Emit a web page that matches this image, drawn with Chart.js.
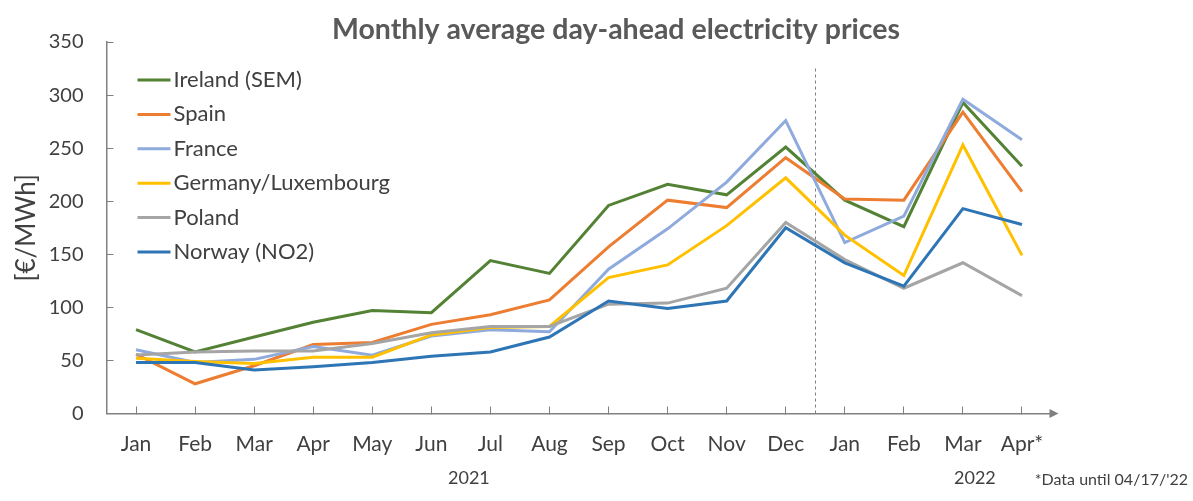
<!DOCTYPE html>
<html>
<head>
<meta charset="utf-8">
<title>Monthly average day-ahead electricity prices</title>
<script src="https://cdn.jsdelivr.net/npm/chart.js@4.4.1/dist/chart.umd.min.js"></script>
<style>
  html, body { margin: 0; padding: 0; background: #fff; }
  #wrap { position: relative; width: 1193px; height: 501px; }
</style>
</head>
<body>
<div id="wrap"><canvas id="priceChart"></canvas></div>
<script>
// categories (Jan 2021 .. Apr 2022)
const months = ['Jan', 'Feb', 'Mar', 'Apr', 'May', 'Jun', 'Jul', 'Aug', 'Sep', 'Oct', 'Nov', 'Dec',
                'Jan', 'Feb', 'Mar', 'Apr*'];
const years = ['2021', '2022'];
const footnote = "*Data until 04/17/'22";

// monthly averages in €/MWh
const ireland = [79, 58, 72, 86, 97, 95, 144, 132, 196, 216, 206, 251, 201, 176, 293, 233];
const spain   = [56, 28, 45, 65, 67, 84, 93, 107, 157, 201, 194, 241, 202, 201, 284, 209];
const france  = [60, 48, 51, 63, 55, 73, 79, 77, 136, 174, 218, 276, 161, 186, 296, 258];
const germany = [52, 49, 47, 53, 53, 74, 81, 82, 128, 140, 177, 222, 168, 130, 253, 149];
const poland  = [55, 58, 59, 59, 66, 76, 82, 82, 103, 104, 118, 180, 145, 118, 142, 111];
const norway  = [48, 48, 41, 44, 48, 54, 58, 72, 106, 99, 106, 175, 142, 120, 193, 178];

const seriesNames = ['Ireland (SEM)', 'Spain', 'France', 'Germany/Luxembourg', 'Poland', 'Norway (NO2)'];
const seriesValues = [ireland, spain, france, germany, poland, norway];
const seriesColors = ['#548235', '#ED7D31', '#8FAADC', '#FFC000', '#A5A5A5', '#2E75B6'];

const yMin = 0, yMax = 350, yStep = 50;

const FONT = 'Lato, "Open Sans", sans-serif';
const TEXT = '#404040';
const AXIS = '#808080';

// title, legend, dashed year separator, arrow, year labels
const extras = {
  id: 'extras',
  beforeDatasetsDraw(chart) {
    const { ctx, scales: { x, y } } = chart;
    // dashed line between Dec and Jan
    const sx = (x.getPixelForValue(11) + x.getPixelForValue(12)) / 2;
    ctx.save();
    ctx.strokeStyle = '#7F7F7F';
    ctx.lineWidth = 1;
    ctx.setLineDash([3, 3]);
    ctx.beginPath();
    ctx.moveTo(Math.round(sx) + 0.5, y.getPixelForValue(325));
    ctx.lineTo(Math.round(sx) + 0.5, y.getPixelForValue(0));
    ctx.stroke();
    ctx.restore();
  },
  afterDraw(chart) {
    const { ctx, chartArea, scales: { x, y } } = chart;
    ctx.save();

    // title
    ctx.fillStyle = '#595959';
    ctx.font = 'bold 28.5px ' + FONT;
    ctx.textAlign = 'center';
    ctx.textBaseline = 'middle';
    ctx.fillText('Monthly average day-ahead electricity prices', 616, 30);

    // legend inside plot area
    ctx.font = '22px ' + FONT;
    ctx.textAlign = 'left';
    chart.data.datasets.forEach((ds, i) => {
      const ly = chartArea.top + 38 + i * 34.4;
      const lx = chartArea.left + 31;
      ctx.strokeStyle = ds.borderColor;
      ctx.lineWidth = 3;
      ctx.beginPath();
      ctx.moveTo(lx, ly);
      ctx.lineTo(lx + 33, ly);
      ctx.stroke();
      ctx.fillStyle = TEXT;
      ctx.fillText(ds.label, lx + 36, ly);
    });

    // arrow on the x axis
    const ay = y.getPixelForValue(0);
    ctx.fillStyle = AXIS;
    ctx.beginPath();
    ctx.moveTo(chartArea.right - 2, ay - 4.5);
    ctx.lineTo(chartArea.right + 7, ay);
    ctx.lineTo(chartArea.right - 2, ay + 4.5);
    ctx.closePath();
    ctx.fill();

    // year labels and footnote
    ctx.fillStyle = TEXT;
    ctx.font = '18px ' + FONT;
    ctx.textAlign = 'center';
    const y1 = (x.getPixelForValue(5) + x.getPixelForValue(6)) / 2 + 8;
    ctx.fillText(years[0], y1, 478);
    ctx.fillText(years[1], x.getPixelForValue(14) + 12, 478);
    ctx.font = '16px ' + FONT;
    ctx.textAlign = 'right';
    ctx.fillText(footnote, 1188, 480);

    ctx.restore();
  }
};

const datasets = seriesNames.map((name, i) => ({
  label: name,
  data: seriesValues[i],
  borderColor: seriesColors[i],
  backgroundColor: seriesColors[i],
  borderWidth: 3,
  pointRadius: 0,
  pointHoverRadius: 0,
  tension: 0,
  order: seriesNames.length - i
}));

new Chart(document.getElementById('priceChart'), {
  type: 'line',
  data: { labels: months, datasets: datasets },
  options: {
    responsive: true,
    maintainAspectRatio: false,
    animation: false,
    layout: { padding: { top: 39, right: 141.5, bottom: 0, left: 0 } },
    plugins: {
      legend: { display: false },
      title: { display: false },
      tooltip: { enabled: false }
    },
    scales: {
      x: {
        offset: true,
        grid: { display: true, drawOnChartArea: false, drawTicks: true, tickLength: -7, color: AXIS, lineWidth: 1 },
        border: { display: true, color: AXIS, width: 1.5 },
        ticks: { color: TEXT, font: { family: FONT, size: 21 }, padding: 25, maxRotation: 0, autoSkip: false },
        afterFit(scale) { scale.height = 87.5; }
      },
      y: {
        min: yMin,
        max: yMax,
        grid: { display: true, drawOnChartArea: false, drawTicks: true, tickLength: -7, color: AXIS, lineWidth: 1 },
        border: { display: true, color: AXIS, width: 1.5 },
        ticks: { stepSize: yStep, color: TEXT, font: { family: FONT, size: 20 }, padding: 30 },
        title: {
          display: true,
          text: '[€/MWh]',
          color: TEXT,
          font: { family: FONT, size: 26 },
          padding: { top: 11, bottom: 0 }
        },
        afterFit(scale) { scale.width = 106.5; }
      }
    }
  },
  plugins: [extras]
});
</script>
</body>
</html>
